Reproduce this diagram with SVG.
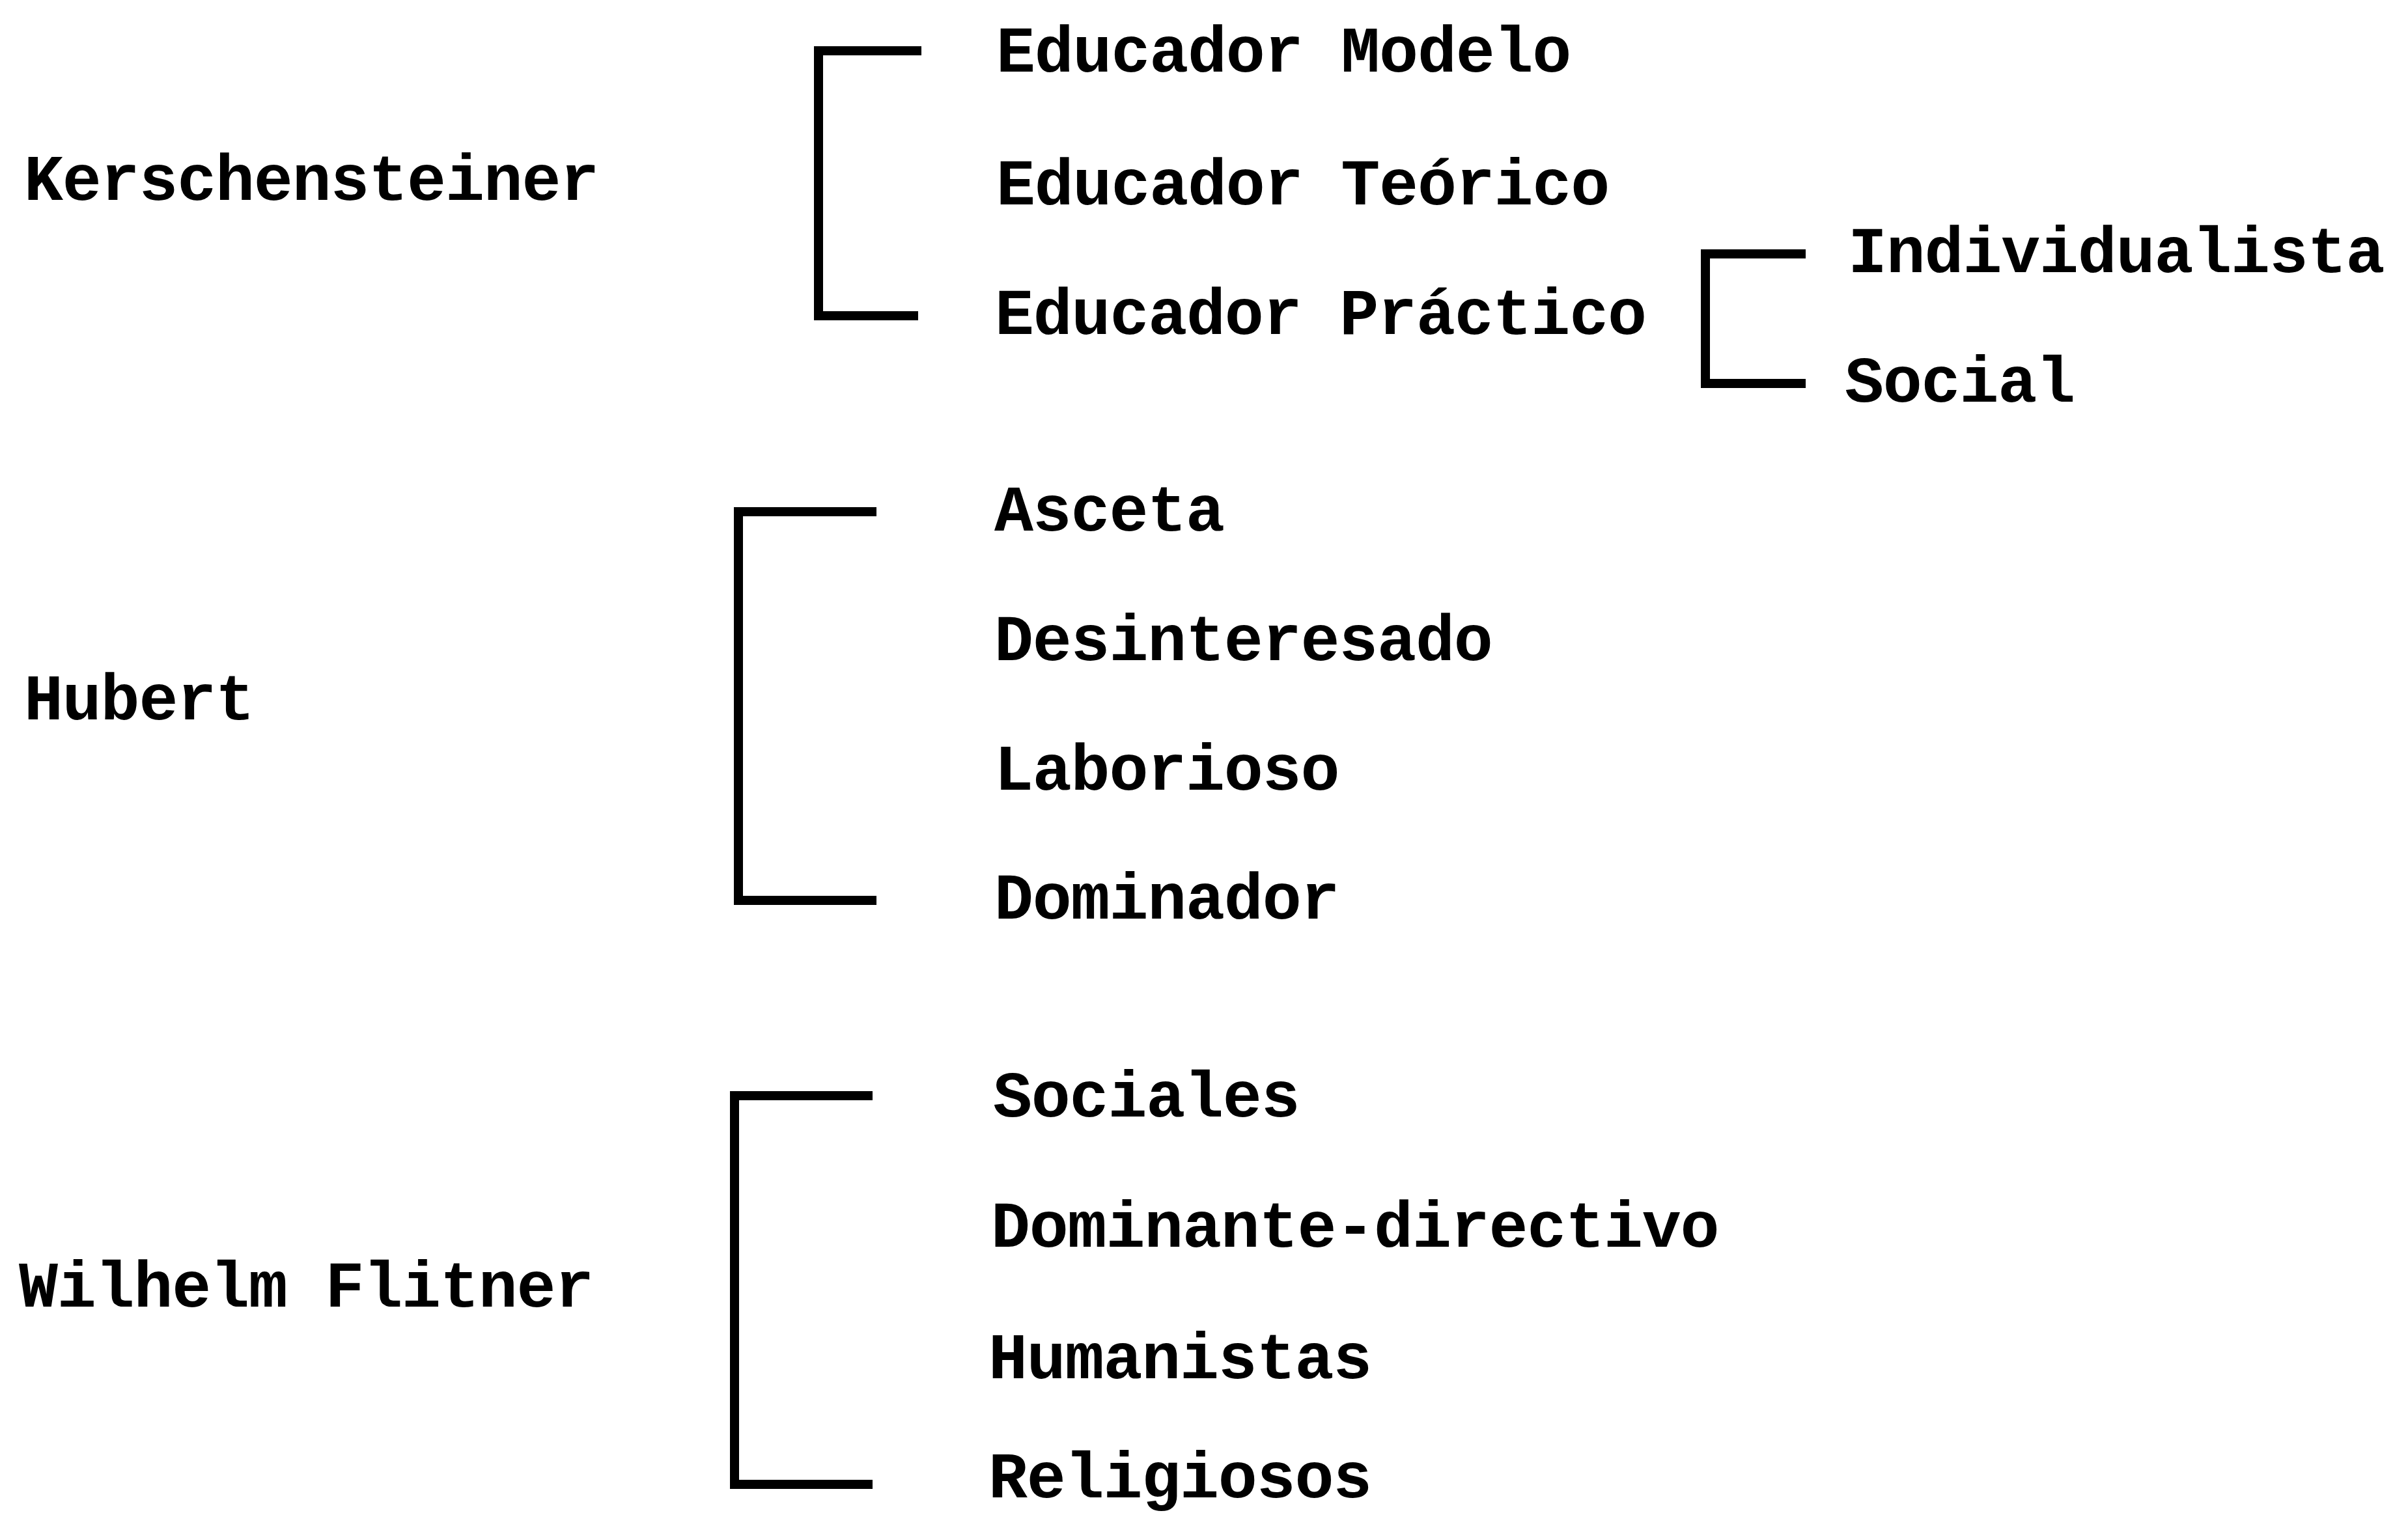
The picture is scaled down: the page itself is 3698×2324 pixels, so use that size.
<svg xmlns="http://www.w3.org/2000/svg" width="3698" height="2324" viewBox="0 0 3698 2324">
<style>
text{font-family:"Liberation Mono","Courier New",monospace;font-weight:bold;font-size:100px;letter-spacing:-1.2px;fill:#000}
.br{fill:none;stroke:#000;stroke-width:14;stroke-linejoin:miter;stroke-linecap:butt}
</style>
<rect width="3698" height="2324" fill="#fff"/>
<g id="connectors">
<path class="br" d="M1415,78 H1257 V485 H1410"/>
<path class="br" d="M2773,390 H2619 V589 H2773"/>
<path class="br" d="M1346,786 H1134 V1383 H1346"/>
<path class="br" d="M1340,1683 H1128 V2280 H1340"/>
</g>
<g id="kerschensteiner"><text x="37" y="307">Kerschensteiner</text></g>
<g id="educador-modelo"><text x="1530" y="110">Educador Modelo</text></g>
<g id="educador-teorico"><text x="1530" y="314">Educador Teórico</text></g>
<g id="educador-practico"><text x="1528" y="513">Educador Práctico</text></g>
<g id="individualista"><text x="2838" y="418">Individualista</text></g>
<g id="social"><text x="2833" y="617">Social</text></g>
<g id="hubert"><text x="37" y="1105">Hubert</text></g>
<g id="asceta"><text x="1527" y="815">Asceta</text></g>
<g id="desinteresado"><text x="1527" y="1014">Desinteresado</text></g>
<g id="laborioso"><text x="1527" y="1213">Laborioso</text></g>
<g id="dominador"><text x="1527" y="1411">Dominador</text></g>
<g id="wilhelm-flitner"><text x="29" y="2007">Wilhelm Flitner</text></g>
<g id="sociales"><text x="1525" y="1715">Sociales</text></g>
<g id="dominante-directivo"><text x="1522" y="1915">Dominante-directivo</text></g>
<g id="humanistas"><text x="1518" y="2117">Humanistas</text></g>
<g id="religiosos"><text x="1518" y="2300">Religiosos</text></g>
</svg>
